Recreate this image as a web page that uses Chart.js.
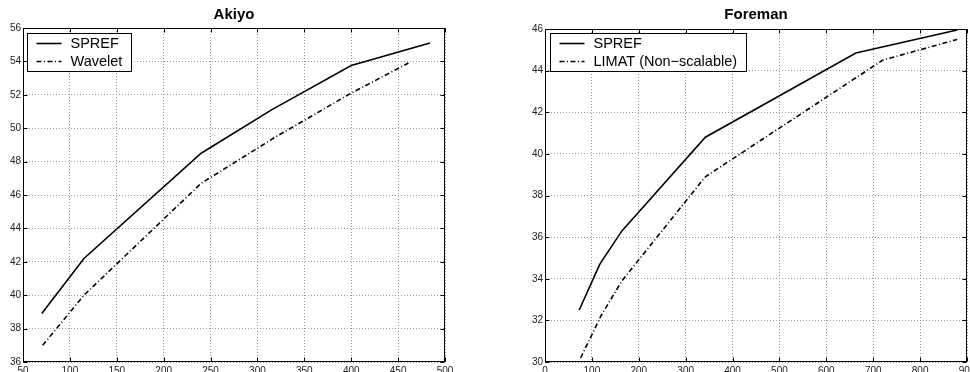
<!DOCTYPE html>
<html>
<head>
<meta charset="utf-8">
<script src="https://cdn.jsdelivr.net/npm/chart.js@4.4.1/dist/chart.umd.min.js"></script>
<style>
  html, body { margin: 0; padding: 0; background: #fff; overflow: hidden; width: 970px; height: 372px; }
  canvas { position: absolute; top: 0; }
  #akiyo { left: 0; }
  #foreman { left: 485px; }
</style>
</head>
<body>
<canvas id="akiyo" width="485" height="380"></canvas>
<canvas id="foreman" width="500" height="380"></canvas>
<script>
// Akiyo: PSNR (dB) against rate
const akiyoSprefX = [70, 115, 240, 315, 400, 484];
const akiyoSprefY = [38.9, 42.2, 48.5, 51.1, 53.75, 55.1];
const akiyoWaveletX = [71, 115, 240, 320, 400, 461];
const akiyoWaveletY = [37.0, 40.0, 46.7, 49.5, 52.1, 53.9];

// Foreman: PSNR (dB) against rate
const foremanSprefX = [73, 117, 164, 342, 663, 879];
const foremanSprefY = [32.5, 34.7, 36.3, 40.8, 44.85, 45.95];
const foremanLimatX = [76, 119, 164, 342, 720, 879];
const foremanLimatY = [30.2, 32.2, 33.9, 38.9, 44.5, 45.5];

// Axis ranges and tick steps
const akiyoXAxis = [50, 500, 50];
const akiyoYAxis = [36, 56, 2];
const foremanXAxis = [0, 900, 100];
const foremanYAxis = [30, 46, 2];

const FONT = "'Liberation Sans', Arial, Helvetica, sans-serif";

function points(xs, ys) {
  return xs.map((x, i) => ({ x: x, y: ys[i] }));
}

// Title centred over the axes, box frame, inward tick marks and boxed legend
const framePlugin = {
  id: 'frame',
  afterDraw(chart) {
    const ctx = chart.ctx;
    const a = chart.chartArea;
    const opt = chart.options.plugins.frame;
    const L = Math.round(a.left) + 0.5, R = Math.round(a.right) - 0.5;
    const T = Math.round(a.top) + 0.5, B = Math.round(a.bottom) - 0.5;
    ctx.save();

    ctx.fillStyle = '#000';
    ctx.font = 'bold 15px ' + FONT;
    ctx.textAlign = 'center';
    ctx.textBaseline = 'middle';
    ctx.fillText(opt.title, (a.left + a.right) / 2, 15);

    ctx.strokeStyle = '#000';
    ctx.lineWidth = 1;
    ctx.setLineDash([]);
    ctx.beginPath();
    const tl = 4;
    chart.scales.x.ticks.forEach(t => {
      const px = Math.round(chart.scales.x.getPixelForValue(t.value)) + 0.5;
      ctx.moveTo(px, B); ctx.lineTo(px, B - tl);
      ctx.moveTo(px, T); ctx.lineTo(px, T + tl);
    });
    chart.scales.y.ticks.forEach(t => {
      const py = Math.round(chart.scales.y.getPixelForValue(t.value)) + 0.5;
      ctx.moveTo(L, py); ctx.lineTo(L + tl, py);
      ctx.moveTo(R, py); ctx.lineTo(R - tl, py);
    });
    ctx.stroke();
    ctx.strokeRect(L, T, R - L, B - T);

    // legend
    ctx.font = '14.5px ' + FONT;
    const labels = chart.data.datasets.map(d => d.label);
    const tw = Math.max(...labels.map(s => ctx.measureText(s).width));
    const bx = Math.round(a.left + opt.dx) + 0.5;
    const by = Math.round(a.top + opt.dy) + 0.5;
    const bw = Math.round(43 + tw + 9);
    const bh = 38;
    ctx.fillStyle = '#fff';
    ctx.fillRect(bx, by, bw, bh);
    ctx.strokeRect(bx, by, bw, bh);
    chart.data.datasets.forEach((d, i) => {
      const cy = by + 10 + i * 18;
      ctx.save();
      ctx.lineWidth = d.borderWidth;
      ctx.setLineDash(d.borderDash || []);
      ctx.beginPath();
      ctx.moveTo(bx + 9, cy);
      ctx.lineTo(bx + 34, cy);
      ctx.stroke();
      ctx.restore();
      ctx.fillStyle = '#000';
      ctx.textBaseline = 'middle';
      ctx.textAlign = 'left';
      ctx.fillText(d.label, bx + 43, cy + 0.5);
    });
    ctx.restore();
  }
};

function makeChart(id, title, padTop, yWidth, padRight, xAxis, yAxis, series, legendPos) {
  const datasets = series.map(s => ({
    label: s.label,
    data: points(s.x, s.y),
    borderColor: '#000',
    borderWidth: 1.6,
    borderDash: s.dash,
    pointRadius: 0,
    fill: false,
    tension: 0
  }));
  const tickFont = { family: FONT, size: 10 };
  return new Chart(document.getElementById(id), {
    type: 'line',
    data: { datasets: datasets },
    options: {
      responsive: false,
      animation: false,
      devicePixelRatio: 1,
      layout: { padding: { left: 0, right: padRight, top: padTop, bottom: 0 } },
      plugins: {
        legend: { display: false },
        tooltip: { enabled: false },
        title: { display: false },
        frame: Object.assign({ title: title }, legendPos)
      },
      scales: {
        x: {
          type: 'linear',
          min: xAxis[0], max: xAxis[1],
          ticks: { stepSize: xAxis[2], font: tickFont, color: '#222', padding: 3, maxRotation: 0, autoSkip: false },
          grid: { color: '#9a9a9a', lineWidth: 1, drawTicks: false },
          border: { display: false, dash: [1, 2] },
          afterFit: s => { s.height = 18; }
        },
        y: {
          type: 'linear',
          min: yAxis[0], max: yAxis[1],
          ticks: { stepSize: yAxis[2], font: tickFont, color: '#222', padding: 2, autoSkip: false },
          grid: { color: '#9a9a9a', lineWidth: 1, drawTicks: false },
          border: { display: false, dash: [1, 2] },
          afterFit: s => { s.width = yWidth; }
        }
      }
    },
    plugins: [framePlugin]
  });
}

makeChart('akiyo', 'Akiyo', 28, 23, 40, akiyoXAxis, akiyoYAxis, [
  { label: 'SPREF', x: akiyoSprefX, y: akiyoSprefY, dash: [] },
  { label: 'Wavelet', x: akiyoWaveletX, y: akiyoWaveletY, dash: [5, 2.5, 1, 2.5] }
], { dx: 4, dy: 5 });

makeChart('foreman', 'Foreman', 29, 60, 18, foremanXAxis, foremanYAxis, [
  { label: 'SPREF', x: foremanSprefX, y: foremanSprefY, dash: [] },
  { label: 'LIMAT (Non\u2212scalable)', x: foremanLimatX, y: foremanLimatY, dash: [5, 2.5, 1, 2.5] }
], { dx: 5, dy: 4 });
</script>
</body>
</html>
